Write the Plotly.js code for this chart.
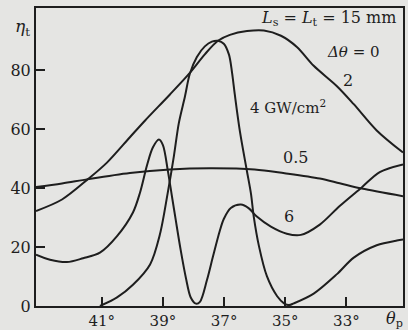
<!DOCTYPE html>
<html>
<head>
<meta charset="utf-8">
<script src="https://cdn.plot.ly/plotly-3.0.1.min.js"></script>
<style>html,body{margin:0;padding:0;background:#e5e5e3;}#chart{width:408px;height:330px;}</style>
</head>
<body>
<div id="chart"></div>
<script>
// phase-matching angle theta_p (degrees) and efficiency eta_t (%)
const theta05 = [43.15, 42.30, 41.45, 40.08, 38.77, 37.46, 36.00, 35.02, 33.87, 33.22, 32.50, 31.15];
const eta05   = [40.3, 41.5, 43.0, 45.1, 46.3, 46.7, 46.3, 45.0, 43.2, 41.6, 39.8, 37.2];

const theta2 = [43.15, 42.30, 41.45, 40.83, 40.08, 39.59, 38.77, 38.12, 37.63, 37.20, 36.81, 36.25, 35.70, 35.14, 34.62, 34.07, 33.31, 32.76, 32.01, 31.15];
const eta2   = [32.2, 36.1, 43.0, 48.6, 57.2, 62.8, 71.7, 79.0, 85.3, 89.9, 91.9, 93.2, 93.4, 91.6, 87.8, 81.4, 74.5, 68.4, 59.5, 52.0];

const theta4 = [41.06, 40.50, 39.98, 39.42, 39.10, 38.84, 38.64, 38.48, 38.28, 38.12, 37.89, 37.63, 37.40, 37.20, 37.01, 36.84, 36.74, 36.65, 36.48, 36.26, 36.12, 36.03, 35.86, 35.60, 35.27, 35.05, 34.88, 34.72, 34.07, 33.31, 32.76, 32.01, 31.35, 31.15];
const eta4   = [0.0, 2.9, 7.2, 14.1, 24.2, 38.5, 50.9, 62.0, 71.0, 78.7, 84.4, 88.0, 89.6, 89.9, 88.9, 85.2, 79.1, 71.7, 59.0, 46.1, 38.0, 30.3, 20.3, 10.1, 3.4, 1.0, 0.3, 0.9, 4.2, 10.8, 16.4, 20.6, 22.2, 22.5];

const theta6 = [43.15, 42.69, 42.14, 41.61, 41.06, 40.50, 39.98, 39.75, 39.52, 39.33, 39.13, 39.00, 38.84, 38.71, 38.58, 38.42, 38.25, 38.09, 37.92, 37.79, 37.56, 37.37, 37.14, 37.01, 36.78, 36.45, 36.19, 35.93, 35.47, 34.95, 34.49, 33.87, 33.22, 32.50, 31.91, 31.15];
const eta6   = [17.4, 15.7, 14.9, 16.2, 18.1, 23.7, 31.7, 38.4, 47.7, 53.7, 56.4, 54.5, 45.9, 37.5, 29.1, 19.0, 9.6, 2.9, 0.8, 1.4, 8.8, 16.5, 25.5, 29.5, 33.2, 34.4, 33.1, 30.3, 26.9, 24.5, 24.1, 27.6, 33.9, 40.2, 45.4, 48.0];

const xTickVals = [41, 39, 37, 35, 33];
const xTickText = ["41°", "39°", "37°", "35°", "33°"];
const yTickVals = [0, 20, 40, 60, 80];
const yTickText = ["0", "20", "40", "60", "80"];

const ink = '#1e1e1e';
const paper = '#e5e5e3';
const serif = 'DejaVu Serif, serif';

function curve(x, y) {
  return {x: x, y: y, type: 'scatter', mode: 'lines',
    line: {color: ink, width: 2, shape: 'spline', smoothing: 0.9},
    hoverinfo: 'skip', showlegend: false};
}

const data = [curve(theta05, eta05), curve(theta2, eta2), curve(theta4, eta4), curve(theta6, eta6)];

function ann(text, x, y, size, extra) {
  return Object.assign({text: text, xref: 'paper', yref: 'paper', x: x, y: y,
    xanchor: 'center', yanchor: 'middle', showarrow: false,
    font: {family: serif, size: size, color: ink}}, extra || {});
}

const layout = {
  width: 408, height: 330,
  margin: {l: 36, r: 5, t: 8, b: 24, pad: 0},
  paper_bgcolor: paper, plot_bgcolor: paper,
  showlegend: false,
  xaxis: {range: [43.15, 31.15], tickvals: xTickVals, ticktext: xTickText,
    ticks: 'inside', ticklen: 9, tickwidth: 2, tickcolor: ink,
    showline: true, linecolor: ink, linewidth: 2, mirror: true,
    showgrid: false, zeroline: false,
    tickfont: {family: serif, size: 15, color: ink}},
  yaxis: {range: [0, 101], tickvals: yTickVals, ticktext: yTickText,
    ticks: 'inside', ticklen: 9, tickwidth: 2, tickcolor: ink,
    showline: true, linecolor: ink, linewidth: 2, mirror: true,
    showgrid: false, zeroline: false,
    tickfont: {family: serif, size: 16, color: ink}},
  annotations: [
    ann('<i>L</i><sub>s</sub> = <i>L</i><sub>t</sub> = 15 mm', 0.798, 0.966, 16),
    ann('<i>Δθ</i> = 0', 0.866, 0.852, 15),
    ann('2', 0.850, 0.758, 16),
    ann('4 GW/cm<sup>2</sup>', 0.687, 0.668, 15),
    ann('0.5', 0.708, 0.50, 16),
    ann('6', 0.689, 0.299, 16),
    ann('<i>η</i><sub>t</sub>', -0.038, 0.933, 17),
    ann('<i>θ</i><sub>p</sub>', 0.978, -0.045, 16)
  ]
};

Plotly.newPlot('chart', data, layout, {staticPlot: true, displayModeBar: false});
</script>
</body>
</html>
